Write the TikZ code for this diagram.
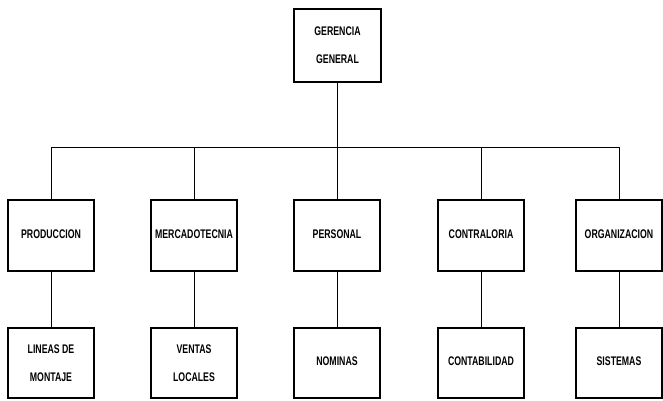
\documentclass[tikz,border=0pt]{standalone}
\usepackage{fontspec}
\setmainfont{Liberation Sans}
\usepackage{graphicx}
\newcommand{\lbl}[1]{\scalebox{0.7}[1]{#1}}
\begin{document}
\begin{tikzpicture}[x=1pt,y=-1pt,
  unit/.style={draw, line width=1.7pt, inner sep=0pt, minimum width=86pt,
    minimum height=71pt, align=center, font=\fontsize{12.5}{15}\bfseries},
  link/.style={line width=1pt}]
\useasboundingbox (0,0) rectangle (663,400);

% top level
\node[unit, minimum width=87pt, minimum height=73pt] (gg) at (337.5,45.5)
  {\lbl{GERENCIA}\\[13pt]\lbl{GENERAL}};

% departments
\node[unit] (prod) at (51,235.5) {\raisebox{3pt}{\lbl{PRODUCCION}}};
\node[unit] (merc) at (194,235.5) {\raisebox{3pt}{\lbl{MERCADOTECNIA}}};
\node[unit] (pers) at (337,235.5) {\raisebox{3pt}{\lbl{PERSONAL}}};
\node[unit] (cont) at (481,235.5) {\raisebox{3pt}{\lbl{CONTRALORIA}}};
\node[unit] (orga) at (619,235.5) {\raisebox{3pt}{\lbl{ORGANIZACION}}};

% sections
\node[unit, minimum height=70pt] (lin) at (51,363) {\lbl{LINEAS DE}\\[13pt]\lbl{MONTAJE}};
\node[unit, minimum height=70pt] (ven) at (194,363) {\lbl{VENTAS}\\[13pt]\lbl{LOCALES}};
\node[unit, minimum height=70pt] (nom) at (337,363) {\raisebox{3pt}{\lbl{NOMINAS}}};
\node[unit, minimum height=70pt] (ctb) at (481,363) {\raisebox{3pt}{\lbl{CONTABILIDAD}}};
\node[unit, minimum height=70pt] (sis) at (619,363) {\raisebox{3pt}{\lbl{SISTEMAS}}};

% connectors
\coordinate (bus) at (337,147);
\draw[link] (gg.south) -- (gg.south |- bus);
\draw[link] (prod.north |- bus) -- (orga.north |- bus);
\foreach \d in {prod,merc,pers,cont,orga}
  \draw[link] (\d.north |- bus) -- (\d.north);
\draw[link] (prod.south) -- (lin.north);
\draw[link] (merc.south) -- (ven.north);
\draw[link] (pers.south) -- (nom.north);
\draw[link] (cont.south) -- (ctb.north);
\draw[link] (orga.south) -- (sis.north);
\end{tikzpicture}
\end{document}
